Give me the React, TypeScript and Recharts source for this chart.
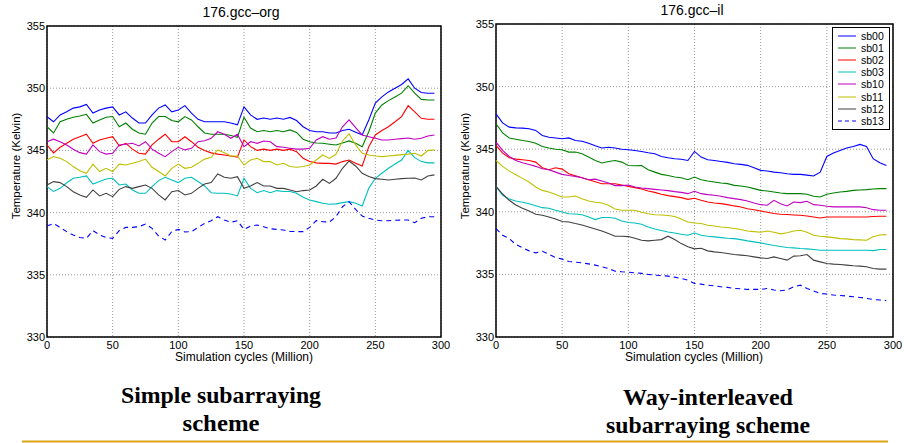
import React from 'react';
import { LineChart, Line, XAxis, YAxis, CartesianGrid, ReferenceArea, Legend } from 'recharts';

const xValues = [0,5,10,15,20,25,30,35,40,45,50,55,60,65,70,75,80,85,90,95,100,105,110,115,120,125,130,135,140,145,150,155,160,165,170,175,180,185,190,195,200,205,210,215,220,225,230,235,240,245,250,255,260,265,270,275,280,285,290,295];
const xTicks = [0,50,100,150,200,250,300];
const yTicks = [330,335,340,345,350,355];
const seriesNames = ['sb00','sb01','sb02','sb03','sb10','sb11','sb12','sb13'];
const seriesColors = ['#0000ff','#008000','#ff0000','#00bfbf','#bf00bf','#bfbf00','#404040','#0000ff'];

// 176.gcc-org (simple subarraying)
const orgSb00 = [347.7,347.3,347.85,348.1,348.4,348.5,348.7,348.0,348.25,348.4,348.5,347.85,348.1,347.6,347.2,347.2,347.85,348.4,348.65,348.1,348.25,348.6,348.0,347.5,347.3,347.3,347.3,347.3,347.2,347.05,348.5,347.85,347.5,347.6,347.5,347.6,347.5,347.65,347.4,346.9,346.6,346.5,346.5,346.4,346.4,346.6,346.7,346.45,346.25,347.45,348.8,349.3,349.7,350.0,350.3,350.75,350.0,349.65,349.6,349.6];
const orgSb01 = [346.9,346.4,347.3,347.5,347.66,347.77,347.9,347.2,347.45,347.66,347.72,346.9,347.2,346.7,346.4,346.3,347.2,347.72,347.72,347.4,347.3,347.72,347.45,346.9,346.4,346.3,346.3,346.3,346.2,346.05,347.66,346.8,346.5,346.6,346.5,346.6,346.5,346.65,346.45,345.9,345.7,345.6,345.57,345.5,345.44,345.6,345.76,345.57,345.3,346.5,348.0,348.65,349.0,349.3,349.6,350.2,349.6,349.1,349.05,349.05];
const orgSb02 = [345.44,344.8,345.25,345.57,345.9,346.1,346.3,345.57,345.84,345.97,346.1,345.36,345.57,345.1,344.77,344.7,345.44,345.9,346.3,345.7,345.7,346.1,345.7,345.25,345.0,344.8,344.7,344.63,344.55,344.45,345.84,345.3,345.0,345.1,345.0,345.1,345.0,345.1,344.9,344.37,344.1,344.0,343.96,343.96,343.9,344.1,344.23,343.96,343.75,345.3,346.24,346.6,346.9,347.3,347.72,348.6,348.1,347.58,347.5,347.5];
const orgSb03 = [342.09,341.7,341.95,342.4,342.76,342.84,342.95,342.3,342.5,342.7,342.76,342.22,342.3,341.82,341.55,341.55,342.09,342.57,342.84,342.62,342.41,342.76,342.84,342.5,342.14,341.6,341.55,341.55,341.5,341.34,342.76,341.95,341.6,341.77,341.6,341.77,341.7,341.7,341.55,341.23,341.02,340.88,340.75,340.67,340.7,340.8,340.88,340.75,340.53,341.95,342.76,343.16,343.56,343.9,344.23,345.0,344.42,344.1,344.0,344.0];
const orgSb10 = [345.7,345.9,345.7,345.44,345.1,344.82,344.7,345.44,344.9,344.7,344.77,345.44,345.5,345.57,345.36,345.7,345.1,344.77,344.5,344.9,345.25,345.04,345.17,345.7,345.78,345.97,346.5,346.3,345.97,346.3,345.3,345.7,345.57,345.76,345.7,345.3,345.25,345.17,345.1,345.1,345.17,345.84,346.1,345.9,346.0,346.9,347.45,346.83,346.24,346.1,345.97,345.84,345.84,345.9,345.95,346.0,345.9,345.97,346.16,346.24];
const orgSb11 = [344.23,344.5,344.37,344.1,343.7,343.37,343.16,343.9,343.3,343.56,343.3,343.9,343.83,343.96,344.1,344.3,343.64,343.3,342.95,343.56,343.9,343.56,343.64,343.96,344.3,344.45,345.04,344.82,344.55,344.55,343.83,344.23,344.37,344.1,344.1,343.83,343.96,343.7,343.64,343.7,343.83,344.23,344.63,344.35,344.69,345.76,346.32,345.44,344.77,344.63,344.55,344.5,344.55,344.6,344.66,344.7,344.77,344.55,344.98,345.04];
const orgSb12 = [342.22,342.49,342.41,342.09,341.68,341.42,341.23,341.82,341.34,341.55,341.28,341.87,342.09,341.95,342.09,342.22,341.95,341.42,341.02,341.68,341.77,341.42,341.55,341.95,342.3,342.41,343.1,342.84,342.76,342.89,341.95,342.14,342.41,342.14,342.14,341.95,341.95,341.82,341.68,341.77,341.82,342.14,342.68,342.35,342.76,343.56,344.15,343.75,343.16,342.9,342.73,342.68,342.62,342.68,342.73,342.76,342.78,342.62,342.94,343.03];
const orgSb13 = [338.92,339.13,338.81,338.47,338.2,338.0,337.93,338.55,338.2,338.0,337.93,338.55,338.81,338.81,338.87,339.08,338.73,338.12,337.8,338.47,338.65,338.44,338.47,338.81,339.13,339.35,339.67,339.4,339.22,339.35,338.65,338.92,339.0,338.87,338.7,338.65,338.6,338.49,338.47,338.47,338.81,339.35,339.27,339.24,339.67,340.47,340.88,340.26,339.72,339.54,339.4,339.35,339.35,339.38,339.4,339.4,339.19,339.54,339.67,339.67];

// 176.gcc-il (way-interleaved subarraying)
const ilSb00 = [347.82,347.1,346.76,346.7,346.68,346.63,346.5,346.1,345.96,345.9,345.83,345.9,345.7,345.64,345.48,345.27,345.1,345.16,345.1,345.0,344.95,344.9,344.82,344.72,344.64,344.42,344.32,344.24,344.2,344.1,344.82,344.37,344.16,344.1,344.02,343.95,343.84,343.79,343.71,343.52,343.31,343.26,343.17,343.12,343.04,342.99,342.99,342.93,342.86,343.17,344.42,344.69,344.9,345.09,345.22,345.38,345.22,344.24,343.92,343.7];
const ilSb01 = [347.03,346.3,345.9,345.8,345.7,345.62,345.48,345.22,345.09,345.0,344.95,344.77,344.77,344.63,344.37,344.1,343.9,344.02,344.1,343.97,343.7,343.68,343.7,343.36,343.17,342.99,342.9,342.78,342.72,342.56,342.78,342.56,342.46,342.38,342.3,342.25,342.11,342.06,341.98,341.85,341.71,341.66,341.58,341.5,341.45,341.45,341.45,341.4,341.24,341.18,341.4,341.5,341.58,341.63,341.71,341.74,341.77,341.82,341.85,341.85];
const ilSb02 = [345.3,344.69,344.32,344.21,344.16,344.1,343.97,343.52,343.36,343.52,343.41,343.04,342.88,342.72,342.56,342.4,342.24,342.24,342.24,342.14,342.03,341.93,341.82,341.66,341.55,341.4,341.29,341.21,341.13,340.99,341.08,340.92,340.78,340.7,340.65,340.57,340.47,340.39,340.25,340.17,340.07,339.96,339.86,339.8,339.78,339.75,339.72,339.67,339.59,339.51,339.59,339.59,339.59,339.59,339.59,339.59,339.59,339.62,339.64,339.64];
const ilSb03 = [342.03,341.31,341.02,340.86,340.76,340.65,340.49,340.33,340.28,340.12,339.99,339.85,339.83,339.77,339.59,339.38,339.54,339.54,339.48,339.27,339.14,339.11,339.0,338.79,338.63,338.5,338.39,338.31,338.21,338.13,338.31,338.13,338.05,338.0,337.94,337.89,337.86,337.78,337.68,337.6,337.52,337.41,337.31,337.23,337.15,337.12,337.07,337.04,336.99,336.93,336.93,336.93,336.93,336.93,336.93,336.93,336.93,336.9,336.99,336.99];
const ilSb10 = [345.56,344.9,344.42,344.1,343.92,343.78,343.63,343.44,343.36,343.17,342.99,342.9,342.83,342.72,342.56,342.61,342.46,342.3,342.09,342.09,342.14,341.98,341.9,341.85,341.79,341.74,341.69,341.61,341.55,341.45,341.64,341.45,341.37,341.32,341.24,341.13,341.05,340.97,340.86,340.7,340.57,340.52,340.92,340.65,340.47,340.78,340.73,340.84,340.57,340.52,340.44,340.39,340.39,340.39,340.39,340.39,340.33,340.17,340.12,340.12];
const ilSb11 = [344.1,343.63,343.25,342.96,342.67,342.38,341.98,341.71,341.58,341.39,341.18,341.18,341.26,341.05,340.86,340.76,340.7,340.52,340.23,340.12,340.12,340.12,339.96,339.85,339.77,339.75,339.7,339.62,339.43,339.19,339.11,339.06,338.93,338.87,338.79,338.74,338.66,338.58,338.47,338.42,338.37,338.47,338.37,338.24,338.32,338.47,338.53,338.37,338.13,338.05,338.0,337.94,337.86,337.84,337.78,337.76,337.73,338.0,338.15,338.18];
const ilSb12 = [342.03,341.42,340.92,340.54,340.28,340.07,339.8,339.72,339.59,339.43,339.22,339.19,339.06,338.95,338.79,338.63,338.47,338.26,338.05,338.05,338.02,337.89,337.73,337.68,337.73,337.78,338.05,337.78,337.46,337.2,337.04,337.09,336.88,336.8,336.75,336.67,336.59,336.54,336.49,336.4,336.32,336.27,336.4,336.27,336.14,336.46,336.49,336.59,336.14,336.0,335.87,335.82,335.79,335.74,335.69,335.66,335.61,335.47,335.42,335.42];
const ilSb13 = [338.66,338.13,337.86,337.38,337.14,336.88,336.72,336.85,336.61,336.35,336.22,336.03,335.98,335.92,335.84,335.74,335.6,335.47,335.26,335.21,335.18,335.13,335.08,335.0,334.94,334.91,334.86,334.78,334.67,334.54,334.28,334.22,334.14,334.09,334.01,333.96,333.88,333.85,333.8,333.8,333.8,333.88,333.75,333.69,333.75,334.01,334.14,333.88,333.67,333.48,333.43,333.35,333.32,333.27,333.21,333.16,333.08,333.0,332.95,332.9];

const orgSeries = [orgSb00, orgSb01, orgSb02, orgSb03, orgSb10, orgSb11, orgSb12, orgSb13];
const ilSeries = [ilSb00, ilSb01, ilSb02, ilSb03, ilSb10, ilSb11, ilSb12, ilSb13];

function buildRows(series: number[][]) {
  return xValues.map((x, i) => {
    const row: Record<string, number> = { x };
    seriesNames.forEach((n, k) => { row[n] = series[k][i]; });
    return row;
  });
}

const orgRows = buildRows(orgSeries);
const ilRows = buildRows(ilSeries);

const sans = '"Liberation Sans", Arial, Helvetica, sans-serif';
const serif = '"Liberation Serif", "Times New Roman", serif';

const renderLegend = () => (
  <div style={{ border: '1.5px solid #000', background: '#fff', width: 56, padding: '2px 0', boxSizing: 'content-box', fontFamily: sans, fontSize: 10.5, color: '#000' }}>
    {seriesNames.map((n, i) => (
      <div key={n} style={{ display: 'flex', alignItems: 'center', height: 12.1 }}>
        <svg width={28} height={10} style={{ display: 'block' }}>
          <line x1={5} x2={23} y1={5} y2={5} stroke={seriesColors[i]} strokeWidth={1} strokeDasharray={i === 7 ? '4 3' : undefined} />
        </svg>
        <span style={{ lineHeight: '10px' }}>{n}</span>
      </div>
    ))}
  </div>
);

function Panel(props: { rows: Record<string, number>[]; yAxisWidth: number; top: number; legend: boolean }) {
  const { rows, yAxisWidth, top, legend } = props;
  return (
    <LineChart width={452} height={362} data={rows} margin={{ top, right: 11, bottom: 0, left: 0 }}>
      <CartesianGrid stroke="#9a9a9a" strokeDasharray="1 2" />
      <XAxis
        dataKey="x"
        type="number"
        domain={[0, 300]}
        ticks={xTicks}
        height={25}
        axisLine={false}
        tickLine={false}
        tickSize={0}
        tickMargin={4}
        tick={{ fontSize: 11, fill: '#000', fontFamily: sans }}
        interval={0}
      />
      <YAxis
        type="number"
        domain={[330, 355]}
        ticks={yTicks}
        width={yAxisWidth}
        axisLine={false}
        tickLine={false}
        tickSize={0}
        tickMargin={2}
        tick={{ fontSize: 11, fill: '#000', fontFamily: sans }}
        interval={0}
      />
      <ReferenceArea x1={0} x2={300} y1={330} y2={355} fill="none" stroke="#000" strokeWidth={1.5} />
      {seriesNames.map((n, i) => (
        <Line
          key={n}
          dataKey={n}
          type="linear"
          stroke={seriesColors[i]}
          strokeWidth={1.1}
          strokeDasharray={i === 7 ? '5 4' : undefined}
          dot={false}
          isAnimationActive={false}
        />
      ))}
      {legend && (
        <Legend
          layout="horizontal"
          verticalAlign="middle"
          align="center"
          content={renderLegend}
          wrapperStyle={{ left: 380, top: 27, width: 59, height: 101 }}
        />
      )}
    </LineChart>
  );
}

export default function App() {
  return (
    <div style={{ position: 'absolute', left: 0, top: 0, width: 904, height: 443, background: '#fff', overflow: 'hidden' }}>
      <div style={{ position: 'absolute', left: 0, top: 0 }}>
        <Panel rows={orgRows} yAxisWidth={47} top={26} legend={false} />
      </div>
      <div style={{ position: 'absolute', left: 452, top: 0 }}>
        <Panel rows={ilRows} yAxisWidth={44} top={24} legend={true} />
      </div>
      <svg width={904} height={443} style={{ position: 'absolute', left: 0, top: 0, pointerEvents: 'none' }}>
        <text x={241} y={17} textAnchor="middle" fontSize={14} fontFamily={sans}>176.gcc–org</text>
        <text x={692} y={15} textAnchor="middle" fontSize={14} fontFamily={sans}>176.gcc–il</text>
        <text x={244} y={361} textAnchor="middle" fontSize={12} fontFamily={sans}>Simulation cycles (Million)</text>
        <text x={694} y={361} textAnchor="middle" fontSize={12} fontFamily={sans}>Simulation cycles (Million)</text>
        <text transform="translate(20,166) rotate(-90)" textAnchor="middle" fontSize={11.5} fontFamily={sans}>Temperature (Kelvin)</text>
        <text transform="translate(469,166) rotate(-90)" textAnchor="middle" fontSize={11.5} fontFamily={sans}>Temperature (Kelvin)</text>
        <text x={221} y={403} textAnchor="middle" fontSize={24} fontWeight="bold" fontFamily={serif} textLength={200} lengthAdjust="spacingAndGlyphs">Simple subarraying</text>
        <text x={221} y={431} textAnchor="middle" fontSize={24} fontWeight="bold" fontFamily={serif} textLength={77} lengthAdjust="spacingAndGlyphs">scheme</text>
        <text x={708} y={405} textAnchor="middle" fontSize={24} fontWeight="bold" fontFamily={serif} textLength={170} lengthAdjust="spacingAndGlyphs">Way-interleaved</text>
        <text x={708} y={433} textAnchor="middle" fontSize={24} fontWeight="bold" fontFamily={serif} textLength={204} lengthAdjust="spacingAndGlyphs">subarraying scheme</text>
        <line x1={22} x2={888} y1={441.5} y2={441.5} stroke="#d9a514" strokeWidth={2} />
      </svg>
    </div>
  );
}
